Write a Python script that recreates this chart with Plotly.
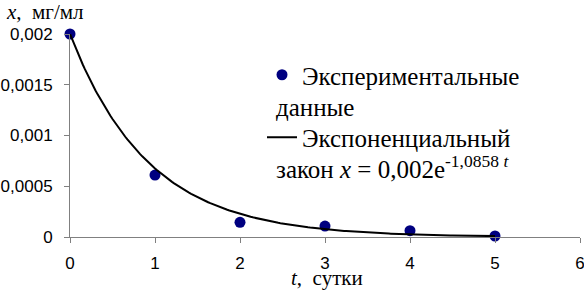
import numpy as np
import plotly.graph_objects as go

# Experimental data
t_exp = [0, 1, 2, 3, 4, 5]
x_exp = [0.002, 0.00061, 0.000145, 0.000108, 0.000062, 0.00001]

# Exponential law parameters (from legend)
A = 0.002
k = 1.0858
t_fit = np.linspace(0, 5, 201)
x_fit = A * np.exp(-k * t_fit)

x_ticks = [0, 1, 2, 3, 4, 5, 6]
x_ticktext = ["0", "1", "2", "3", "4", "5", "6"]
y_ticks = [0, 0.0005, 0.001, 0.0015, 0.002]
y_ticktext = ["0", "0,0005", "0,001", "0,0015", "0,002"]

serif = "Liberation Serif"
sans = "Liberation Sans"

fig = go.Figure()
fig.add_trace(go.Scatter(
    x=t_exp, y=x_exp, mode="markers", name="Экспериментальные",
    marker=dict(color="#000080", size=11), cliponaxis=False,
    legendgroup="a",
))
fig.add_trace(go.Scatter(
    x=t_fit, y=x_fit, mode="lines", name="Экспоненциальный",
    line=dict(color="black", width=2), cliponaxis=False,
    legendgroup="b",
))

W, H = 584, 291
ml, mr, mt, mb = 70, 4, 34, 54
pw, ph = W - ml - mr, H - mt - mb

def px(xp):
    return (xp - ml) / pw

def py(yp):
    return (H - mb - yp) / ph

fig.update_layout(
    width=W, height=H,
    margin=dict(l=ml, r=mr, t=mt, b=mb, autoexpand=False),
    plot_bgcolor="white", paper_bgcolor="white",
    showlegend=True,
    legend=dict(
        x=px(262), y=py(52), xanchor="left", yanchor="top",
        font=dict(family=serif, size=25, color="black"),
        bgcolor="rgba(0,0,0,0)", tracegroupgap=27,
        itemwidth=30,
    ),
    xaxis=dict(
        range=[0, 6], tickvals=x_ticks, ticktext=x_ticktext,
        showgrid=False, zeroline=False, showline=True, automargin=False,
        linecolor="#808080", linewidth=1, ticklabeloverflow="allow",
        ticks="outside", ticklen=5, tickcolor="#808080",
        tickfont=dict(family=sans, size=17, color="black"),
        ticklabelstandoff=6,
    ),
    yaxis=dict(
        range=[0, 0.002], tickvals=y_ticks, ticktext=y_ticktext,
        showgrid=False, zeroline=False, showline=True, automargin=False,
        linecolor="#808080", linewidth=1, ticklabeloverflow="allow",
        ticks="outside", ticklen=5, tickcolor="#808080",
        tickfont=dict(family=sans, size=17, color="black"),
        ticklabelstandoff=8,
    ),
    annotations=[
        dict(xref="paper", yref="paper", x=px(274), y=py(107),
             xanchor="left", yanchor="middle", showarrow=False,
             text="данные", font=dict(family=serif, size=25, color="black")),
        dict(xref="paper", yref="paper", x=px(274), y=py(167),
             xanchor="left", yanchor="middle", showarrow=False,
             text="закон <i>x</i> = 0,002e<sup>-1,0858 <i>t</i></sup>",
             font=dict(family=serif, size=25, color="black")),
        dict(xref="paper", yref="paper", x=px(4), y=py(12),
             xanchor="left", yanchor="middle", showarrow=False,
             text="<i>x</i>,\u00a0\u00a0мг/мл",
             font=dict(family=serif, size=21, color="black")),
        dict(xref="paper", yref="paper", x=px(327), y=py(278),
             xanchor="center", yanchor="middle", showarrow=False,
             text="<i>t</i>,\u00a0\u00a0сутки",
             font=dict(family=serif, size=21, color="black")),
    ],
)

fig.write_html(
    "out.html",
    config={"displayModeBar": False},
    post_script="document.body.style.margin='0';document.body.style.padding='0';",
)
